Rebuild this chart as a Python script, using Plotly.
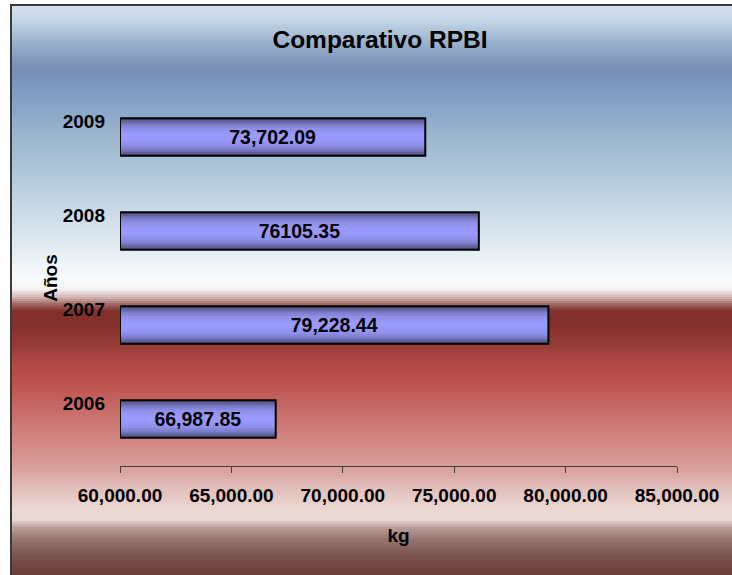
import plotly.graph_objects as go

# data
years = ["2006", "2007", "2008", "2009"]
kg = [66987.85, 79228.44, 76105.35, 73702.09]
bar_labels = ["66,987.85", "79,228.44", "76105.35", "73,702.09"]

AXIS_MIN = 60000
AXIS_MAX = 85000

W, H = 732, 575
L, R, T, B = 120, 55, 90, 109
PW, PH = W - L - R, H - T - B

FONT = "Liberation Sans, Arial, sans-serif"


def px_x(px):
    return (px - L) / PW


def px_y(py):
    return (H - B - py) / PH


# background gradient stops (pixel row, colour)
bg_stops = [
    (5, "#d6e4ef"), (20, "#c5d6e6"), (40, "#9fb6cf"), (60, "#8198bb"),
    (72, "#788eb6"), (90, "#7d9cc0"), (110, "#8aa7c8"), (140, "#9db8d0"),
    (170, "#afc6da"), (200, "#c3d5e3"), (230, "#d6e3ec"), (260, "#ebf2f6"),
    (280, "#f8fbfd"), (289, "#f6f3f3"), (297, "#d4b8b6"), (304, "#a36b68"),
    (311, "#80302c"), (326, "#842f2b"), (344, "#953b37"), (366, "#b34b47"),
    (380, "#bb4f4b"), (400, "#c4625e"), (420, "#cb7571"), (440, "#d28682"),
    (470, "#daa29e"), (490, "#e3c1bd"), (510, "#ebd8d4"), (520, "#e8d9d5"),
    (528, "#b89a96"), (540, "#957471"), (555, "#7a5350"), (576, "#6a3c3a"),
]


def hex_rgb(h):
    h = h.lstrip("#")
    return [int(h[i:i + 2], 16) for i in (0, 2, 4)]


def grad_color(py):
    for (y0, c0), (y1, c1) in zip(bg_stops[:-1], bg_stops[1:]):
        if y0 <= py <= y1:
            t = (py - y0) / (y1 - y0)
            a, b = hex_rgb(c0), hex_rgb(c1)
            rgb = [round(a[i] + (b[i] - a[i]) * t) for i in range(3)]
            return "rgb(%d,%d,%d)" % tuple(rgb)
    return bg_stops[-1][1]


shapes = []
step = 2
for py in range(5, 576, step):
    shapes.append(dict(
        type="rect", xref="paper", yref="paper",
        x0=px_x(11), x1=px_x(760), y0=px_y(py + step), y1=px_y(py),
        fillcolor=grad_color(py + step / 2), line=dict(width=0),
        layer="below",
    ))

# chart frame
shapes.append(dict(
    type="rect", xref="paper", yref="paper",
    x0=px_x(11), x1=px_x(760), y0=px_y(590), y1=px_y(5),
    fillcolor="rgba(0,0,0,0)", line=dict(color="#3a3a3a", width=2),
    layer="below",
))

fig = go.Figure()

# bars sit a bit below the tick label position
shift = -0.17
bar_w = 0.40
base_vals = [v - AXIS_MIN for v in kg]

# fake vertical gradient on the bars
bar_layers = [
    (0.40, "#4e4e80"), (0.36, "#5e5e98"), (0.32, "#6e6eb2"),
    (0.28, "#7c7cc8"), (0.24, "#8787da"), (0.19, "#9090ea"),
    (0.13, "#9696f6"), (0.07, "#9a9afe"),
]
for w, c in bar_layers:
    fig.add_trace(go.Bar(
        y=years, x=base_vals, base=AXIS_MIN, orientation="h",
        width=w, offset=shift - w / 2,
        marker=dict(color=c, line=dict(width=0)),
        showlegend=False, hoverinfo="skip",
    ))

fig.add_trace(go.Bar(
    y=years, x=base_vals, base=AXIS_MIN, orientation="h",
    width=bar_w, offset=shift - bar_w / 2,
    marker=dict(color="rgba(0,0,0,0)", line=dict(color="#000000", width=2)),
    text=bar_labels, textposition="inside", insidetextanchor="middle",
    textangle=0,
    insidetextfont=dict(family=FONT, size=19.5, color="#000000", weight="bold"),
    customdata=kg,
    hovertemplate="%{y}: %{customdata:,.2f} kg<extra></extra>",
    showlegend=False,
))

fig.update_layout(
    width=W, height=H,
    margin=dict(l=L, r=R, t=T, b=B),
    barmode="overlay",
    paper_bgcolor="white",
    plot_bgcolor="rgba(0,0,0,0)",
    shapes=shapes,
    font=dict(family=FONT, color="#000000"),
    title=dict(
        text="Comparativo RPBI",
        font=dict(family=FONT, size=24.5, color="#000000", weight="bold"),
        xref="paper", x=px_x(380), xanchor="center",
        yref="container", y=1 - 39 / H, yanchor="middle",
    ),
    xaxis=dict(
        range=[AXIS_MIN, AXIS_MAX], dtick=5000, tickformat=",.2f",
        showgrid=False, zeroline=False,
        showline=True, linecolor="#404040", linewidth=1,
        ticks="outside", ticklen=6, tickcolor="#404040",
        tickfont=dict(family=FONT, size=19, color="#000000", weight="bold"),
        ticklabelstandoff=6,
        title=dict(text="kg", standoff=23,
                   font=dict(family=FONT, size=19, color="#000000", weight="bold")),
    ),
    yaxis=dict(
        type="category", categoryorder="array", categoryarray=years,
        range=[-0.5 + shift, 3.5 + shift],
        showgrid=False, zeroline=False, showline=False, ticks="",
        tickfont=dict(family=FONT, size=19, color="#000000", weight="bold"),
        ticklabelstandoff=14,
        title=dict(text="Años", standoff=0,
                   font=dict(family=FONT, size=19, color="#000000", weight="bold")),
    ),
)

# drop the browser's default 8px body margin so the figure fills the window
fig.write_html("out.html", config={"displayModeBar": False},
               post_script="document.body.style.margin='0';")
